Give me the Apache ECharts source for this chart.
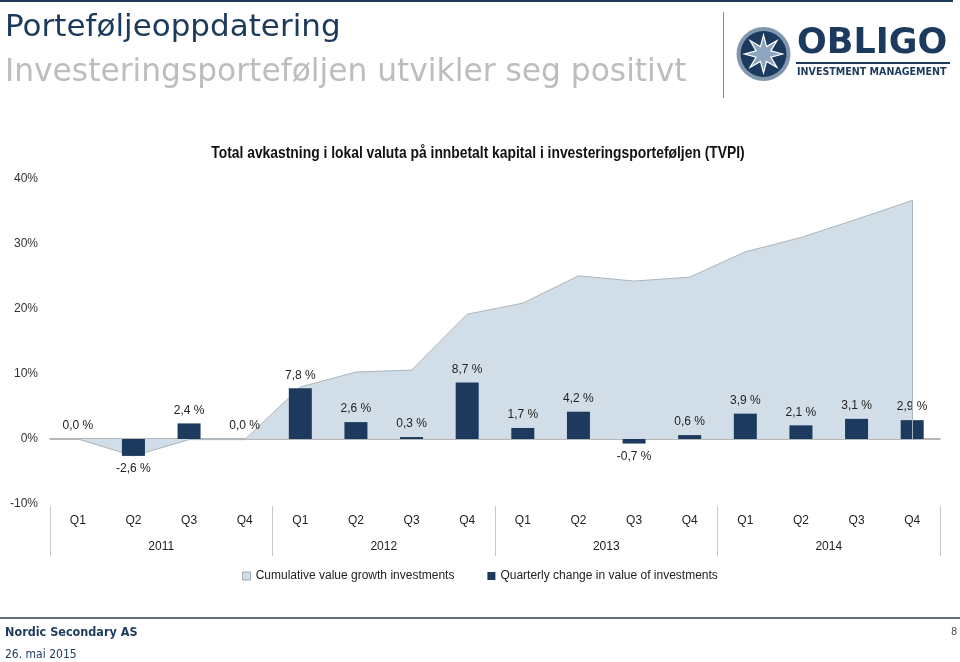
<!DOCTYPE html>
<html>
<head>
<meta charset="utf-8">
<script src="https://cdn.jsdelivr.net/npm/echarts@6/dist/echarts.min.js"></script>
<style>
html,body{margin:0;padding:0;background:#fff;}
#chart{width:960px;height:662px;}
</style>
</head>
<body>
<div id="chart"></div>
<script>
// ---- data ----
const quarters = ['Q1', 'Q2', 'Q3', 'Q4'];
const years = ['2011', '2012', '2013', '2014'];
const cumulativeGrowth = [0.0, -2.6, -0.1, -0.1, 8.0, 10.3, 10.6, 19.2, 20.9, 25.1, 24.3, 24.9, 28.8, 31.0, 33.8, 36.7];
const quarterlyChange = [0.0, -2.6, 2.4, 0.0, 7.8, 2.6, 0.3, 8.7, 1.7, 4.2, -0.7, 0.6, 3.9, 2.1, 3.1, 2.9];
const yTicks = [-10, 0, 10, 20, 30, 40];
const seriesNames = ['Cumulative value growth investments', 'Quarterly change in value of investments'];
const chartTitle = 'Total avkastning i lokal valuta på innbetalt kapital i investeringsporteføljen (TVPI)';

const categories = [];
years.forEach(y => quarters.forEach(q => categories.push(q + ' ' + y)));

const SANS = '"Liberation Sans", Arial, sans-serif';
const HEAD = '"DejaVu Sans", Verdana, sans-serif';
const COND = '"DejaVu Sans Condensed", "DejaVu Sans", sans-serif';
const NAVY = '#1b3a5e';

// logo star points (decoration)
function starPoints(cx, cy, rOut, rIn, n) {
  const pts = [];
  for (let i = 0; i < n * 2; i++) {
    const r = i % 2 === 0 ? rOut : rIn;
    const a = -Math.PI / 2 + i * Math.PI / n;
    pts.push([cx + r * Math.cos(a), cy + r * Math.sin(a)]);
  }
  return pts;
}

const chart = echarts.init(document.getElementById('chart'), null, {renderer: 'canvas'});
const option = {
  animation: false,
  backgroundColor: '#fff',
  legend: {
    top: 565,
    left: 'center',
    itemWidth: 8,
    itemHeight: 8,
    itemGap: 33,
    textStyle: {fontFamily: SANS, fontSize: 12, color: '#222'},
    data: [
      {name: seriesNames[0], icon: 'rect', itemStyle: {color: '#d2dee7', borderColor: '#9aa6b0', borderWidth: 1}},
      {name: seriesNames[1], icon: 'rect', itemStyle: {color: NAVY}}
    ]
  },
  grid: {left: 50, right: 20, top: 179, bottom: 158, containLabel: false},
  xAxis: [
    {
      type: 'category', data: categories, boundaryGap: true,
      axisLine: {show: true, onZero: true, lineStyle: {color: '#a0a0a0', width: 1.5}},
      axisTick: {show: false}, axisLabel: {show: false}, splitLine: {show: false}
    },
    {
      type: 'category', data: categories, boundaryGap: true, position: 'bottom',
      axisLine: {show: false, onZero: false}, axisTick: {show: false},
      axisLabel: {show: true, margin: 11, fontFamily: SANS, fontSize: 12, color: '#222',
        formatter: v => v.split(' ')[0]}
    },
    {
      type: 'category', data: years, boundaryGap: true, position: 'bottom', offset: 2,
      axisLine: {show: false, onZero: false},
      axisTick: {show: true, length: 50, inside: false, lineStyle: {color: '#c8c8c8', width: 1}},
      axisLabel: {show: true, margin: 35, fontFamily: SANS, fontSize: 12, color: '#222'}
    }
  ],
  yAxis: {
    type: 'value', min: yTicks[0], max: yTicks[yTicks.length - 1], interval: 10,
    axisLine: {show: false}, axisTick: {show: false}, splitLine: {show: false},
    axisLabel: {margin: 12, fontFamily: SANS, fontSize: 12, color: '#333', formatter: v => v + '%'}
  },
  series: [
    {
      name: seriesNames[0], type: 'line', xAxisIndex: 0, data: cumulativeGrowth,
      symbol: 'none', z: 1,
      itemStyle: {color: '#d2dee7'},
      lineStyle: {color: '#a9b6bf', width: 1},
      areaStyle: {color: '#d2dee7', opacity: 1},
      markLine: {
        symbol: 'none', silent: true, label: {show: false},
        lineStyle: {color: '#a9b6bf', width: 1, type: 'solid'},
        data: [[{coord: [categories[categories.length - 1], 0]},
                {coord: [categories[categories.length - 1], cumulativeGrowth[cumulativeGrowth.length - 1]]}]]
      }
    },
    {
      name: seriesNames[1], type: 'bar', xAxisIndex: 0, barWidth: 23, z: 3,
      itemStyle: {color: NAVY},
      data: quarterlyChange.map(v => ({
        value: v,
        label: {position: v < 0 ? 'bottom' : 'top'}
      })),
      label: {
        show: true, distance: 7, fontFamily: SANS, fontSize: 12, color: '#222',
        formatter: p => p.value.toFixed(1).replace('.', ',') + ' %'
      }
    }
  ],
  graphic: [
    {type: 'rect', shape: {x: 0, y: 0, width: 953, height: 2}, style: {fill: '#1f3a5a'}},
    {type: 'text', left: 5, top: 12, style: {text: 'Porteføljeoppdatering', fontFamily: HEAD, fontSize: 31, fill: '#1b3a5c'}},
    {type: 'text', left: 5, top: 57, style: {text: 'Investeringsporteføljen utvikler seg positivt', fontFamily: HEAD, fontSize: 31.3, fill: '#bdbdbd'}},
    {type: 'line', shape: {x1: 723.5, y1: 12, x2: 723.5, y2: 98}, style: {stroke: '#8a8a8a', lineWidth: 1}},
    {type: 'circle', shape: {cx: 763.5, cy: 54, r: 27}, style: {fill: '#8197b0'}},
    {type: 'circle', shape: {cx: 763.5, cy: 54, r: 23}, style: {fill: NAVY}},
    {type: 'polygon', shape: {points: starPoints(763.5, 54, 19, 8, 8)}, style: {fill: '#8ea5bf', stroke: '#ffffff', lineWidth: 1.2}},
    {type: 'text', left: 797, top: 26, style: {text: 'OBLIGO', fontFamily: HEAD, fontWeight: 'bold', fontSize: 35, fill: NAVY}},
    {type: 'rect', shape: {x: 796, y: 62, width: 154, height: 2}, style: {fill: NAVY}},
    {type: 'text', left: 797, top: 67, style: {text: 'INVESTMENT MANAGEMENT', fontFamily: COND, fontWeight: 'bold', fontSize: 10.6, fill: NAVY}},
    {type: 'text', x: 478, y: 153, scaleX: 0.84, scaleY: 1,
      style: {text: chartTitle, fontFamily: SANS, fontWeight: 'bold', fontSize: 16.5, fill: '#111', align: 'center', verticalAlign: 'middle'}},
    {type: 'rect', shape: {x: 0, y: 617, width: 960, height: 2}, style: {fill: '#5f6f80'}},
    {type: 'text', left: 5, top: 626, style: {text: 'Nordic Secondary AS', fontFamily: COND, fontWeight: 'bold', fontSize: 12.5, fill: '#1b3a5c'}},
    {type: 'text', left: 5, top: 649, style: {text: '26. mai 2015', fontFamily: COND, fontSize: 12, fill: '#1b3a5c'}},
    {type: 'text', left: 951, top: 627, style: {text: '8', fontFamily: COND, fontSize: 11, fill: '#555'}}
  ]
};
chart.setOption(option);
</script>
</body>
</html>
